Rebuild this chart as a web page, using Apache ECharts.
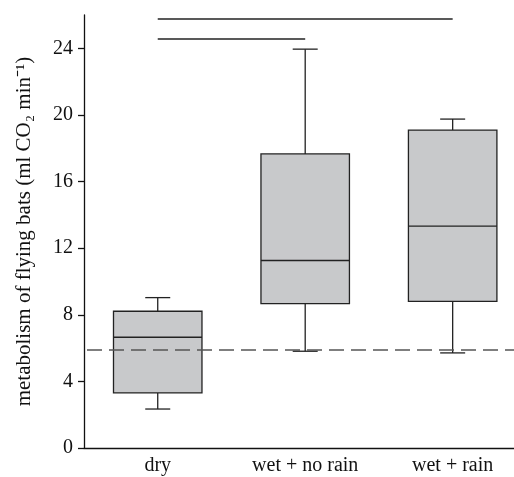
<!DOCTYPE html>
<html>
<head>
<meta charset="utf-8">
<script src="https://cdn.jsdelivr.net/npm/echarts@6/dist/echarts.min.js"></script>
<style>html,body{margin:0;padding:0;background:#fff}#c{width:514px;height:477px}</style>
</head>
<body>
<div id="c"></div>
<script>
const categories = ['dry', 'wet + no rain', 'wet + rain'];
// [min, Q1, median, Q3, max]
const boxValues = [
  [2.34, 3.31, 6.65, 8.21, 9.03],
  [5.81, 8.67, 11.26, 17.66, 23.95],
  [5.71, 8.81, 13.32, 19.09, 19.75]
];
const referenceLine = 5.89;
// [from category index, to category index, y level]
const sigBars = [
  [0, 2, 25.8],
  [0, 1, 24.6]
];
const yTicks = [0, 4, 8, 12, 16, 20, 24];

const FONT = "'Liberation Serif', 'Times New Roman', serif";
const chart = echarts.init(document.getElementById('c'));

const customData = boxValues.map((v, i) => [i].concat(v));

chart.setOption({
  animation: false,
  grid: { left: 84, right: -12.4, top: 15, bottom: 29, outerBoundsMode: 'none', containLabel: false },
  xAxis: {
    type: 'category',
    data: categories,
    axisLine: { lineStyle: { color: '#111', width: 1.3 } },
    axisTick: { alignWithLabel: true, length: 5, lineStyle: { color: '#111', width: 1.3 } },
    axisLabel: { fontFamily: FONT, fontSize: 20, color: '#111', margin: 8 },
    splitLine: { show: false }
  },
  yAxis: {
    type: 'value',
    min: 0, max: 26, interval: 4,
    name: 'metabolism of flying bats (ml CO\u2082 min\u207B\u00B9)',
    nameLocation: 'middle',
    nameGap: 49,
    nameTextStyle: { fontFamily: FONT, fontSize: 21, color: '#111' },
    axisLine: { show: true, lineStyle: { color: '#111', width: 1.3 } },
    axisTick: { show: true, length: 6, customValues: yTicks, lineStyle: { color: '#111', width: 1.3 } },
    axisLabel: { fontFamily: FONT, fontSize: 20, color: '#111', margin: 11, customValues: yTicks },
    splitLine: { show: false }
  },
  series: [
    {
      type: 'custom',
      data: customData,
      encode: { x: 0, y: [1, 2, 3, 4, 5] },
      renderItem: function (params, api) {
        const idx = api.value(0);
        const p = [1, 2, 3, 4, 5].map(k => api.coord([idx, api.value(k)]));
        const cx = p[0][0];
        const bw = api.size([1, 0])[0] * 0.6;
        const cap = 12.5;
        const stroke = '#222';
        const lw = 1.3;
        const line = (x1, y1, x2, y2) => ({
          type: 'line',
          shape: { x1, y1, x2, y2 },
          style: { stroke, lineWidth: lw }
        });
        return {
          type: 'group',
          children: [
            line(cx, p[3][1], cx, p[4][1]),
            line(cx - cap, p[4][1], cx + cap, p[4][1]),
            line(cx, p[1][1], cx, p[0][1]),
            line(cx - cap, p[0][1], cx + cap, p[0][1]),
            {
              type: 'rect',
              shape: { x: cx - bw / 2, y: p[3][1], width: bw, height: p[1][1] - p[3][1] },
              style: { fill: '#c8c9cb', stroke, lineWidth: lw }
            },
            line(cx - bw / 2, p[2][1], cx + bw / 2, p[2][1])
          ]
        };
      },
      markLine: {
        silent: true,
        symbol: ['none', 'none'],
        label: { show: false },
        data: [
          {
            yAxis: referenceLine,
            lineStyle: { type: [15, 7], dashOffset: -3, color: '#555', width: 1.6 }
          }
        ].concat(sigBars.map(b => [
          { coord: [b[0], b[2]], lineStyle: { type: 'solid', color: '#222', width: 1.5 } },
          { coord: [b[1], b[2]] }
        ]))
      }
    }
  ]
});
</script>
</body>
</html>
